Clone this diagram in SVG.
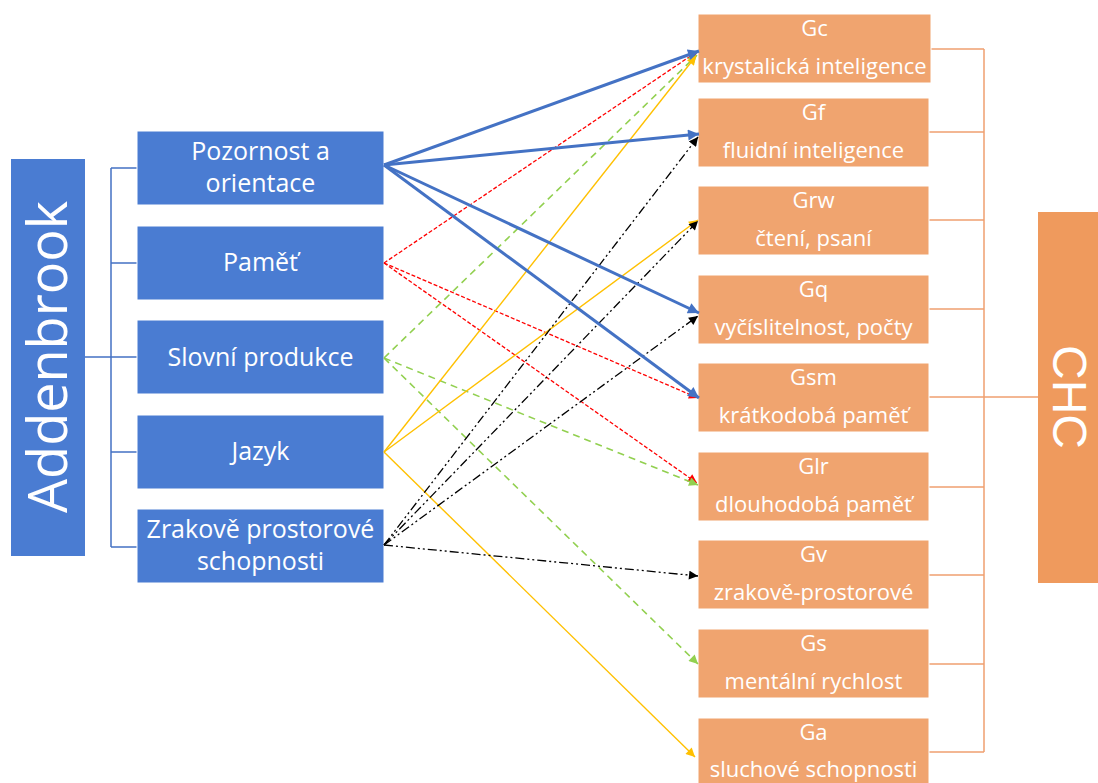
<svg xmlns="http://www.w3.org/2000/svg" width="1098" height="783" viewBox="0 0 1098 783">
<style>
.bl{fill:#4A7CD2;stroke:#ffffff;stroke-width:1}
.or{fill:#F0A46F;stroke:#ffffff;stroke-width:1}
.lt{font-family:"Open Sans","Liberation Sans",sans-serif;font-size:25px;fill:#fff;text-anchor:middle}
.rt{font-family:"Open Sans","Liberation Sans",sans-serif;font-size:22px;fill:#fff;text-anchor:middle}
.big{font-family:"Open Sans","Liberation Sans",sans-serif;fill:#fff;text-anchor:middle}
.tl{stroke:#4472C4;stroke-width:1.5;fill:none}
.tr{stroke:#F0A070;stroke-width:1.5;fill:none}
.cb{stroke:#4472C4;stroke-width:3;fill:none;marker-end:url(#mb)}
.cr{stroke:#FF0000;stroke-width:1.3;stroke-dasharray:4 2;fill:none;marker-end:url(#mr)}
.cg{stroke:#92D050;stroke-width:1.6;stroke-dasharray:7 5;fill:none;marker-end:url(#mg)}
.cy{stroke:#FFC000;stroke-width:1.4;fill:none;marker-end:url(#my)}
.ck{stroke:#000000;stroke-width:1.3;stroke-dasharray:9 3 2 3 2 3;fill:none;marker-end:url(#mk)}
</style>
<defs>
<marker id="mb" viewBox="0 0 10 10" refX="10" refY="5" markerWidth="13" markerHeight="11" markerUnits="userSpaceOnUse" orient="auto"><path d="M0,0 L10,5 L0,10 z" fill="#4472C4"/></marker>
<marker id="mr" viewBox="0 0 10 10" refX="10" refY="5" markerWidth="10" markerHeight="9" markerUnits="userSpaceOnUse" orient="auto"><path d="M0,0 L10,5 L0,10 z" fill="#FF0000"/></marker>
<marker id="mg" viewBox="0 0 10 10" refX="10" refY="5" markerWidth="10" markerHeight="9" markerUnits="userSpaceOnUse" orient="auto"><path d="M0,0 L10,5 L0,10 z" fill="#92D050"/></marker>
<marker id="my" viewBox="0 0 10 10" refX="10" refY="5" markerWidth="10" markerHeight="9" markerUnits="userSpaceOnUse" orient="auto"><path d="M0,0 L10,5 L0,10 z" fill="#FFC000"/></marker>
<marker id="mk" viewBox="0 0 10 10" refX="10" refY="5" markerWidth="10" markerHeight="9" markerUnits="userSpaceOnUse" orient="auto"><path d="M0,0 L10,5 L0,10 z" fill="#000000"/></marker>
</defs>
<rect width="1098" height="783" fill="#ffffff"/>

<g id="tree-left">
<path class="tl" d="M85,357 H111 M111,168 V547 M111,168 H137 M111,263 H137 M111,357 H137 M111,452 H137 M111,547 H137"/>
</g>
<g id="tree-right">
<path class="tr" d="M931,49 H984 M929,132 H984 M929,220 H984 M929,309 H984 M929,397 H1038 M929,487 H984 M929,575 H984 M929,664 H984 M929,752 H984 M984,49 V752"/>
</g>

<g id="addenbrook">
<rect x="11" y="159" width="74" height="397" fill="#4A7CD2"/>
<text class="big" font-size="54" transform="translate(67,357) rotate(-90)">Addenbrook</text>
</g>
<g id="chc">
<rect x="1038" y="212" width="60" height="371" fill="#EF9A5D"/>
<text font-family="'Liberation Sans',Arial,sans-serif" font-size="48" fill="#fff" text-anchor="middle" transform="translate(1053,397) rotate(90)">CHC</text>
</g>

<g id="n-pozornost"><rect class="bl" x="137" y="131" width="247" height="74"/><text class="lt" x="260.5" y="160">Pozornost a</text><text class="lt" x="260.5" y="192">orientace</text></g>
<g id="n-pamet"><rect class="bl" x="137" y="226" width="247" height="74"/><text class="lt" x="260.5" y="271">Paměť</text></g>
<g id="n-slovni"><rect class="bl" x="137" y="320" width="247" height="74"/><text class="lt" x="260.5" y="366">Slovní produkce</text></g>
<g id="n-jazyk"><rect class="bl" x="137" y="415" width="247" height="74"/><text class="lt" x="260.5" y="460">Jazyk</text></g>
<g id="n-zrakove"><rect class="bl" x="137" y="509" width="247" height="74"/><text class="lt" x="260.5" y="538">Zrakově prostorové</text><text class="lt" x="260.5" y="570">schopnosti</text></g>

<g id="n-gc"><rect class="or" x="698" y="14" width="233" height="69"/><text class="rt" x="814.5" y="36">Gc</text><text class="rt" x="814.5" y="74">krystalická inteligence</text></g>
<g id="n-gf"><rect class="or" x="698" y="98" width="231" height="69"/><text class="rt" x="813.5" y="120">Gf</text><text class="rt" x="813.5" y="158">fluidní inteligence</text></g>
<g id="n-grw"><rect class="or" x="698" y="186" width="231" height="69"/><text class="rt" x="813.5" y="208">Grw</text><text class="rt" x="813.5" y="246">čtení, psaní</text></g>
<g id="n-gq"><rect class="or" x="698" y="275" width="231" height="69"/><text class="rt" x="813.5" y="297">Gq</text><text class="rt" x="813.5" y="335">vyčíslitelnost, počty</text></g>
<g id="n-gsm"><rect class="or" x="698" y="363" width="231" height="69"/><text class="rt" x="813.5" y="385">Gsm</text><text class="rt" x="813.5" y="423">krátkodobá paměť</text></g>
<g id="n-glr"><rect class="or" x="698" y="452" width="231" height="69"/><text class="rt" x="813.5" y="474">Glr</text><text class="rt" x="813.5" y="512">dlouhodobá paměť</text></g>
<g id="n-gv"><rect class="or" x="698" y="540" width="231" height="69"/><text class="rt" x="813.5" y="562">Gv</text><text class="rt" x="813.5" y="600">zrakově-prostorové</text></g>
<g id="n-gs"><rect class="or" x="698" y="629" width="231" height="69"/><text class="rt" x="813.5" y="651">Gs</text><text class="rt" x="813.5" y="689">mentální rychlost</text></g>
<g id="n-ga"><rect class="or" x="698" y="718" width="231" height="69"/><text class="rt" x="813.5" y="740">Ga</text><text class="rt" x="813.5" y="777">sluchové schopnosti</text></g>

<g id="connectors">
<line class="cr" x1="384" y1="263" x2="698" y2="51"/>
<line class="cr" x1="384" y1="263" x2="698" y2="398"/>
<line class="cr" x1="384" y1="263" x2="697" y2="483"/>
<line class="cg" x1="384" y1="358" x2="697" y2="55"/>
<line class="cg" x1="384" y1="358" x2="698" y2="485"/>
<line class="cg" x1="384" y1="358" x2="698" y2="664"/>
<line class="cy" x1="384" y1="452" x2="696" y2="56"/>
<line class="cy" x1="384" y1="452" x2="698" y2="220"/>
<line class="cy" x1="384" y1="452" x2="695" y2="757"/>
<line class="ck" x1="384" y1="545" x2="698" y2="137"/>
<line class="ck" x1="384" y1="545" x2="698" y2="221"/>
<line class="ck" x1="384" y1="545" x2="698" y2="316"/>
<line class="ck" x1="384" y1="545" x2="698" y2="576"/>
<line class="cb" x1="384" y1="165" x2="699" y2="51"/>
<line class="cb" x1="384" y1="165" x2="699" y2="134"/>
<line class="cb" x1="384" y1="165" x2="699" y2="313"/>
<line class="cb" x1="384" y1="165" x2="699" y2="398"/>
</g>
</svg>
